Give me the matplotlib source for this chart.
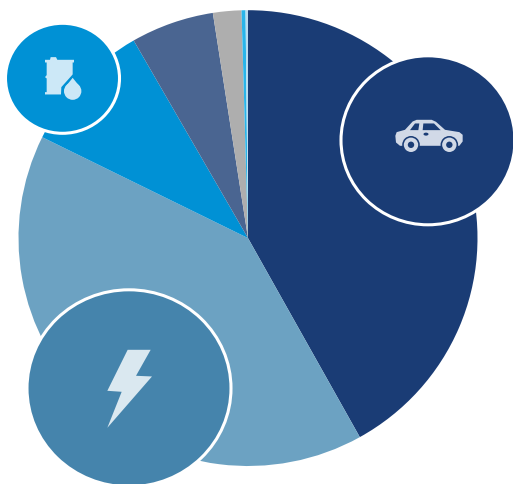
import matplotlib
matplotlib.use("Agg")
import matplotlib.pyplot as plt
from matplotlib.patches import Ellipse, Polygon, Circle

W, H = 513, 485

# Pie data (share of total, %), clockwise from 12 o'clock
categories = ["Transport", "Electricity", "Oil", "Slate", "Grey", "Sky", "Pale"]
values = [41.9, 40.4, 9.4, 5.85, 2.0, 0.28, 0.17]
colors = ["#1A3C75", "#6CA2C2", "#0091D5", "#4A6591", "#AEAEAE", "#29B5EA", "#B9DDF0"]

fig = plt.figure(figsize=(W / 100, H / 100), dpi=100, facecolor="white")

# Pie axes: exact pixel box of the (slightly squashed) pie
L, R, T, B = 18.5, 477.5, 11.2, 467
pie_ax = fig.add_axes([L / W, 1 - B / H, (R - L) / W, (B - T) / H])
pie_ax.pie(values, colors=colors, startangle=90, counterclock=False,
           radius=1, wedgeprops={"linewidth": 0}, frame=True)
pie_ax.set_xlim(-1, 1)
pie_ax.set_ylim(-1, 1)
pie_ax.set_aspect("auto")
pie_ax.axis("off")

# Overlay for badges and icons, in picture pixels
ax = fig.add_axes([0, 0, 1, 1])
ax.set_xlim(0, W)
ax.set_ylim(0.8, H + 0.8)
ax.axis("off")
ax.patch.set_alpha(0)


def pts(seq, ox=0, oy=0, s=1.0):
    """Convert picture-pixel coordinates (y down) to axes coordinates."""
    return [(ox + x * s, H - (oy + y * s)) for x, y in seq]


def badge(cx, cy, rx, ry, fill, lw=2.2):
    ax.add_patch(Ellipse((cx, H - cy), 2 * rx, 2 * ry, facecolor=fill, edgecolor="white", linewidth=lw, zorder=3))


# --- badges ---
badge(428, 140.5, 87, 84.5, "#1A3C75")
badge(129, 388.5, 102, 98.5, "#4584AC")
badge(62.5, 78.5, 57, 55, "#0091D5")

# --- car icon (zoom coordinates, origin 370,100, scale 1/3) ---
CAR = "#D1D9E7"
NAVY = "#1A3C75"
z = dict(ox=370, oy=100, s=1 / 3)
ax.add_patch(Polygon(pts([(76, 108), (80, 97), (105, 90), (128, 65), (140, 60), (185, 60), (198, 66), (225, 90),
                          (268, 97), (278, 105), (278, 125), (268, 138), (90, 138), (78, 128)], **z),
                     closed=True, facecolor=CAR, edgecolor="none", zorder=4))
ax.add_patch(Polygon(pts([(120, 91), (135, 71), (148, 71), (145, 91)], **z), facecolor=NAVY, edgecolor="none", zorder=5))
ax.add_patch(Polygon(pts([(160, 71), (192, 71), (212, 91), (158, 91)], **z), facecolor=NAVY, edgecolor="none", zorder=5))
ax.add_patch(Ellipse(pts([(168, 103)], **z)[0], 5, 3, facecolor=NAVY, edgecolor="none", zorder=5))
for wx in (123, 238):
    c = pts([(wx, 135)], **z)[0]
    ax.add_patch(Circle(c, 8.8, facecolor=NAVY, edgecolor="none", zorder=5))
    ax.add_patch(Circle(c, 7.2, facecolor=CAR, edgecolor="none", zorder=6))
    ax.add_patch(Circle(c, 3.2, facecolor=NAVY, edgecolor="none", zorder=7))

# --- bolt icon (zoom coordinates, origin 80,330) ---
ax.add_patch(Polygon(pts([(143, 60), (212, 60), (168, 138), (216, 140), (82, 294), (125, 186), (82, 183)],
                         ox=80, oy=330, s=1 / 3), facecolor="#DAE8F0", edgecolor="none", zorder=4))

# --- barrel and drop icon (zoom coordinates, origin 0,0) ---
OILC = "#CCE8F7"
BLUE = "#0091D5"
z = dict(ox=0, oy=0, s=1 / 3)
ax.add_patch(Polygon(pts([(135, 180), (150, 180), (152, 172), (168, 172), (172, 180), (222, 180), (222, 188), (218, 188),
                          (218, 275), (190, 275), (190, 284), (135, 284), (135, 277), (140, 277),
                          (140, 236), (135, 232), (140, 226), (140, 188), (135, 188)], **z),
                     facecolor=OILC, edgecolor="none", zorder=4))
ax.add_patch(Polygon(pts([(218, 224), (184, 262), (182, 304), (254, 304), (254, 262)], **z),
                     facecolor=BLUE, edgecolor="none", zorder=5))
ax.add_patch(Polygon(pts([(218, 234), (202, 254), (194, 270), (218, 272), (242, 270), (234, 254)], **z),
                     facecolor=OILC, edgecolor="none", zorder=6))
ax.add_patch(Circle(pts([(218, 274)], **z)[0], 8.7, facecolor=OILC, edgecolor="none", zorder=6))

fig.savefig("out.png", dpi=100)
